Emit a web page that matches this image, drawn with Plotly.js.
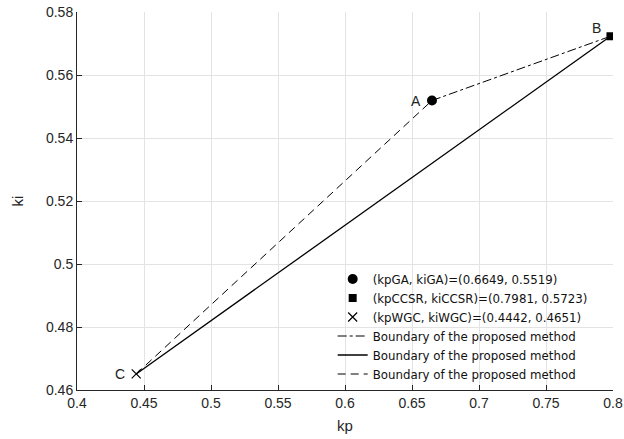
<!DOCTYPE html>
<html><head><meta charset="utf-8">
<script src="https://cdn.plot.ly/plotly-3.0.1.min.js"></script>
<style>body{margin:0}#c{width:624px;height:439px}</style>
</head><body><div id="c"></div>
<script>
const pointNames = ["A", "B", "C"];
const kpPoints = [0.6649, 0.7981, 0.4442];
const kiPoints = [0.5519, 0.5723, 0.4651];
const legendNames = ["(kpGA, kiGA)=(0.6649, 0.5519)", "(kpCCSR, kiCCSR)=(0.7981, 0.5723)", "(kpWGC, kiWGC)=(0.4442, 0.4651)"];
const boundaryName = "Boundary of the proposed method";
const xTicks = [0.4, 0.45, 0.5, 0.55, 0.6, 0.65, 0.7, 0.75, 0.8];
const yTicks = [0.46, 0.48, 0.5, 0.52, 0.54, 0.56, 0.58];

const A = 0, B = 1, C = 2;
const traces = [
  {x:[kpPoints[A]], y:[kiPoints[A]], mode:'markers', name:legendNames[0], marker:{symbol:'circle', size:10, color:'black'}},
  {x:[kpPoints[B]], y:[kiPoints[B]], mode:'markers', name:legendNames[1], marker:{symbol:'square', size:8, color:'black'}},
  {x:[kpPoints[C]], y:[kiPoints[C]], mode:'markers', name:legendNames[2], marker:{symbol:'x-thin', size:9, color:'black', line:{width:1.2, color:'black'}}},
  {x:[kpPoints[A], kpPoints[B]], y:[kiPoints[A], kiPoints[B]], mode:'lines', name:boundaryName, line:{color:'black', width:1, dash:'dashdot'}},
  {x:[kpPoints[B], kpPoints[C]], y:[kiPoints[B], kiPoints[C]], mode:'lines', name:boundaryName, line:{color:'black', width:1.3, dash:'solid'}},
  {x:[kpPoints[C], kpPoints[A]], y:[kiPoints[C], kiPoints[A]], mode:'lines', name:boundaryName, line:{color:'black', width:1, dash:'8px,5px'}}
];
const labelShift = [[-16, 0], [-14, 8], [-16, 0]];
const annotations = pointNames.map((n, i) => ({
  x: kpPoints[i], y: kiPoints[i], text: n, showarrow: false,
  xshift: labelShift[i][0], yshift: labelShift[i][1],
  font:{size:14, color:'#222'}
}));
const layout = {
  width:624, height:439,
  margin:{l:77, r:11, t:12, b:49},
  paper_bgcolor:'white', plot_bgcolor:'white',
  font:{family:'"Liberation Sans", Arial, sans-serif', size:14, color:'#262626'},
  showlegend:true,
  legend:{x:0.477, y:0.332, xanchor:'left', yanchor:'top', bgcolor:'rgba(255,255,255,0)', font:{family:'"DejaVu Sans", sans-serif', size:11.8, color:'#111'}, itemwidth:30, tracegroupgap:0, traceorder:'normal'},
  xaxis:{range:[0.4, 0.8], tickvals:xTicks, ticktext:xTicks.map(String), ticks:'inside', ticklen:5, tickcolor:'#262626', showline:true, linecolor:'#262626', linewidth:1, showgrid:true, gridcolor:'#e3e3e3', zeroline:false, title:{text:'kp', font:{size:15}, standoff:10}},
  yaxis:{range:[0.46, 0.58], tickvals:yTicks, ticktext:yTicks.map(String), ticks:'inside', ticklen:5, tickcolor:'#262626', showline:true, linecolor:'#262626', linewidth:1, showgrid:true, gridcolor:'#e3e3e3', zeroline:false, title:{text:'ki', font:{size:15}, standoff:18}},
  annotations: annotations
};
Plotly.newPlot('c', traces, layout, {displayModeBar:false});
</script></body></html>
